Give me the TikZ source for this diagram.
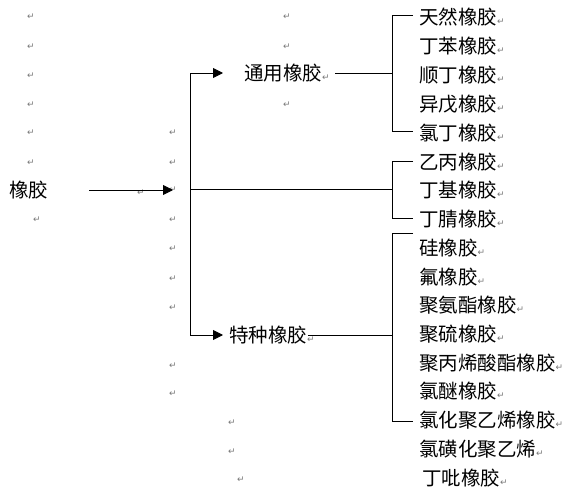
\documentclass[tikz,border=0pt]{standalone}
\usepackage{fontspec}
\newfontfamily\cjk{Noto Sans CJK SC}
\newfontfamily\dvfont{DejaVu Sans}
\usetikzlibrary{arrows.meta}
\definecolor{retgray}{RGB}{120,120,120}
\newcommand{\retmark}{{\dvfont\fontsize{9}{9}\selectfont\color{retgray}↵}}
\tikzset{
  item/.style={anchor=west,inner sep=0pt,font=\cjk\fontsize{19.5}{19.5}\selectfont},
  rm/.style={inner sep=0pt,font=\dvfont\fontsize{9}{9}\selectfont,text=retgray},
  ln/.style={line width=0.9pt,black},
  arr/.style={ln,-{Triangle[length=10pt,width=10pt]}}
}
\begin{document}
\begin{tikzpicture}[x=1pt,y=-1pt]
\useasboundingbox (0,0) rectangle (571,492);
% paragraph marks
\foreach \yy [count=\i] in {17,47,76,105,133,163} {\node[rm] (l\i) at (31,\yy) {↵};}
\node[rm] (l7) at (37,220) {↵};
\node[rm] (m0) at (141,193) {↵};
\foreach \yy [count=\i] in {133,163,190,220,249,279,308,366,394} {\node[rm] (c\i) at (173,\yy) {↵};}
\foreach \yy [count=\i] in {17,47,105} {\node[rm] (u\i) at (287,\yy) {↵};}
\node[rm] (d1) at (232,423) {↵};
\node[rm] (d2) at (232,452) {↵};
\node[rm] (d3) at (241,480) {↵};
% main nodes
\node[item] (xj) at (9,190) {橡胶};
\node[item] (ty) at (244,73) {通用橡胶\retmark};
\node[item] (tz) at (229,335) {特种橡胶\retmark};
% items
\node[item] (i1) at (419,17) {天然橡胶\retmark};
\node[item] (i2) at (419,46) {丁苯橡胶\retmark};
\node[item] (i3) at (419,75) {顺丁橡胶\retmark};
\node[item] (i4) at (419,104) {异戊橡胶\retmark};
\node[item] (i5) at (419,133) {氯丁橡胶\retmark};
\node[item] (j1) at (419,162) {乙丙橡胶\retmark};
\node[item] (j2) at (419,190) {丁基橡胶\retmark};
\node[item] (j3) at (419,219) {丁腈橡胶\retmark};
\node[item] (k1) at (419,248) {硅橡胶\retmark};
\node[item] (k2) at (419,277) {氟橡胶\retmark};
\node[item] (k3) at (419,305) {聚氨酯橡胶\retmark};
\node[item] (k4) at (419,334) {聚硫橡胶\retmark};
\node[item] (k5) at (419,363) {聚丙烯酸酯橡胶\retmark};
\node[item] (k6) at (419,391) {氯醚橡胶\retmark};
\node[item] (k7) at (419,420) {氯化聚乙烯橡胶\retmark};
\node[item] (k8) at (419,449) {氯磺化聚乙烯\retmark};
\node[item] (k9) at (422,478) {丁吡橡胶\retmark};
% coordinates
\coordinate (a0) at (89,190);
\coordinate (a1) at (173,190);
\coordinate (vmid) at (190,189);
\coordinate (tipA) at (223,73);
\coordinate (tipB) at (223,335);
\coordinate (tyR) at (335,73);
\coordinate (tzR) at (308,335);
\coordinate (b1) at (392,73);
\coordinate (b2) at (392,189);
\coordinate (b3) at (392,335);
% connectors
\draw[arr] (a0) -- (a1);
\draw[arr] (vmid) |- (tipA);
\draw[arr] (vmid) |- (tipB);
\draw[ln] (vmid) -- (b2);
\draw[ln] (tyR) -- (b1);
\draw[ln] (tzR) -- (b3);
% brackets
\draw[ln] (413,15) -- (392,15) -- (392,131) -- (413,131);
\draw[ln] (413,161) -- (392,161) -- (392,218) -- (413,218);
\draw[ln] (413,233) -- (392,233) -- (392,421) -- (413,421);
\end{tikzpicture}
\end{document}
